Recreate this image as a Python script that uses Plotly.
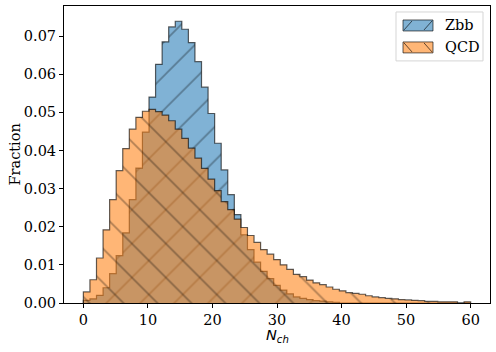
import numpy as np
import plotly.graph_objects as go

# Histogram bin edges (59 bins spanning 0..60)
bin_edges = np.linspace(0, 60, 60)

# Fraction per bin
zbb = [0.0007, 0.0011, 0.0020, 0.0040, 0.0077, 0.0124, 0.0184, 0.0271, 0.0354, 0.0448,
       0.0540, 0.0626, 0.0685, 0.0724, 0.0739, 0.0718, 0.0683, 0.0633, 0.0566, 0.0497,
       0.0419, 0.0349, 0.0284, 0.0232, 0.0179, 0.0140, 0.0107, 0.0083, 0.0064, 0.0046,
       0.0034, 0.0024, 0.0016, 0.0012, 0.0009, 0.0006, 0.0005, 0.0003, 0.0002, 0.0,
       0.0, 0.0, 0.0, 0.0, 0.0, 0.0, 0.0, 0.0, 0.0, 0.0,
       0.0, 0.0, 0.0, 0.0, 0.0, 0.0, 0.0, 0.0, 0.0]
qcd = [0.0029, 0.0061, 0.0118, 0.0192, 0.0271, 0.0347, 0.0405, 0.0456, 0.0487, 0.0503,
       0.0508, 0.0502, 0.0493, 0.0478, 0.0456, 0.0432, 0.0406, 0.0380, 0.0353, 0.0325,
       0.0295, 0.0266, 0.0245, 0.0220, 0.0198, 0.0177, 0.0159, 0.0140, 0.0128, 0.0114,
       0.0100, 0.0088, 0.0075, 0.0069, 0.0060, 0.0053, 0.0048, 0.0042, 0.0036, 0.0032,
       0.0027, 0.0025, 0.0023, 0.0019, 0.0016, 0.0014, 0.0012, 0.0011, 0.0009, 0.0008,
       0.0007, 0.0006, 0.0004, 0.0004, 0.0003, 0.0003, 0.0003, 0.0, 0.0003]

labels = ["Zbb", "QCD"]
x_ticks = [0, 10, 20, 30, 40, 50, 60]
y_ticks = [0.00, 0.01, 0.02, 0.03, 0.04, 0.05, 0.06, 0.07]

ALPHA = 0.57
SERIF = "DejaVu Serif"
FS = 14.5
W, H = 496, 352
ML, MR, MT, MB = 64, 6, 6, 48.5
PW, PH = W - ML - MR, H - MT - MB
EDGE = "rgba(0,0,0,0.62)"


def step_xy(vals):
    xs = [bin_edges[0]] + list(bin_edges[:-1]) + [bin_edges[-1]]
    ys = [0.0] + list(vals) + [0.0]
    return xs, ys


def px(x):  # pixel -> paper x
    return (x - ML) / PW


def py(y):  # pixel -> paper y
    return (H - MB - y) / PH


fig = go.Figure()
styles = [((31, 119, 180), "/"), ((255, 127, 14), "\\")]
shapes, annots = [], []
# legend frame
shapes.append(dict(type="rect", xref="paper", yref="paper",
                   x0=px(396), x1=px(483), y0=py(61), y1=py(12),
                   line=dict(color="#d5d5d5", width=1),
                   fillcolor="rgba(255,255,255,0.8)", layer="above"))
for i, (vals, name, (rgb, hatch)) in enumerate(zip([zbb, qcd], labels, styles)):
    xs, ys = step_xy(vals)
    fc = f"rgba({rgb[0]},{rgb[1]},{rgb[2]},{ALPHA})"
    fig.add_trace(go.Scatter(
        x=xs, y=ys, name=name, mode="lines", showlegend=False,
        line=dict(shape="hv", color=EDGE, width=1.2),
        fill="tozeroy", fillcolor=fc,
        fillpattern=dict(shape=hatch, size=24, solidity=0.07,
                         fgcolor=EDGE, bgcolor=fc),
    ))
    # legend entry
    yt, yb = 20 + 22 * i, 31 + 22 * i
    xl, xr = 403, 433
    shapes.append(dict(type="rect", xref="paper", yref="paper",
                       x0=px(xl), x1=px(xr), y0=py(yb), y1=py(yt),
                       line=dict(color=EDGE, width=1),
                       fillcolor=fc, layer="above"))
    if hatch == "/":
        segs = [((xl + 1, yb - 1), (xl + 9, yt + 1)), ((xr - 9, yb - 1), (xr - 1, yt + 1))]
    else:
        segs = [((xl + 1, yt + 1), (xl + 9, yb - 1)), ((xr - 9, yt + 1), (xr - 1, yb - 1))]
    for (a, b) in segs:
        shapes.append(dict(type="line", xref="paper", yref="paper",
                           x0=px(a[0]), y0=py(a[1]), x1=px(b[0]), y1=py(b[1]),
                           line=dict(color=EDGE, width=1), layer="above"))
    annots.append(dict(text=name, xref="paper", yref="paper", x=px(443),
                       y=py((yt + yb) / 2), xanchor="left", yanchor="middle",
                       showarrow=False, font=dict(family=SERIF, size=FS, color="black")))

annots.append(dict(text="<i>N</i><sub><i>ch</i></sub>", xref="paper", yref="paper",
                   x=0.5, y=py(337), xanchor="center", yanchor="middle", showarrow=False,
                   font=dict(family="DejaVu Sans", size=FS, color="black")))
annots.append(dict(text="Fraction", xref="paper", yref="paper", textangle=-90,
                   x=px(14), y=0.5, xanchor="center", yanchor="middle", showarrow=False,
                   font=dict(family=SERIF, size=FS, color="black")))

fig.update_layout(
    width=W, height=H,
    margin=dict(l=ML, r=MR, t=MT, b=MB, autoexpand=False),
    paper_bgcolor="white", plot_bgcolor="white",
    font=dict(family=SERIF, size=FS, color="black"),
    showlegend=False, shapes=shapes, annotations=annots, hovermode=False,
)
fig.update_xaxes(
    range=[-3, 63], tickvals=x_ticks, ticktext=[str(t) for t in x_ticks],
    showline=True, linecolor="black", linewidth=1, mirror=True, automargin=False,
    ticks="outside", ticklen=4, tickcolor="black", showgrid=False, zeroline=False,
)
fig.update_yaxes(
    range=[0, 0.0779], tickvals=y_ticks, ticktext=[f"{t:.2f}" for t in y_ticks],
    showline=True, linecolor="black", linewidth=1, mirror=True, automargin=False,
    ticks="outside", ticklen=4, tickcolor="black", showgrid=False, zeroline=False,
)

fig.write_html("out.html", config={"displayModeBar": False},
               post_script="document.body.style.margin='0';document.body.style.padding='0';")
